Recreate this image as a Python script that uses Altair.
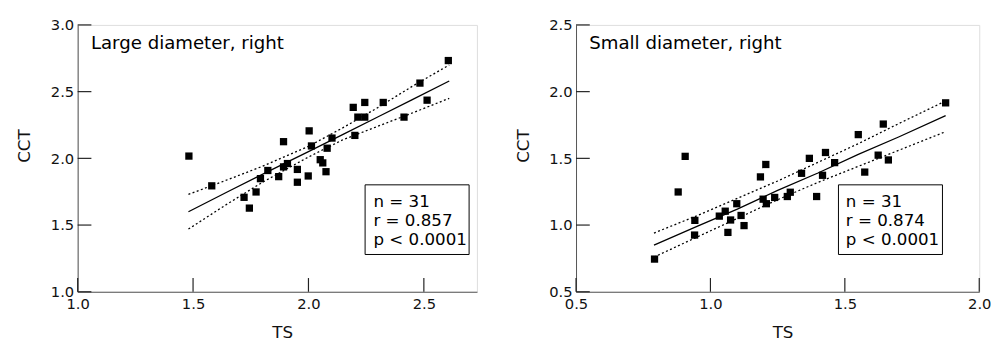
import altair as alt
import pandas as pd

FONT = "DejaVu Sans"

# ---- Left panel: Large diameter, right ----
left_ts = [1.482, 1.581, 1.721, 1.744, 1.773, 1.792, 1.824, 1.871, 1.892, 1.892,
           1.909, 1.952, 1.952, 1.999, 2.003, 2.013, 2.051, 2.062, 2.076, 2.081,
           2.102, 2.194, 2.201, 2.214, 2.244, 2.244, 2.324, 2.414, 2.483, 2.514, 2.606]
left_cct = [2.017, 1.794, 1.708, 1.627, 1.748, 1.848, 1.909, 1.863, 2.125, 1.936,
            1.961, 1.917, 1.821, 1.868, 2.206, 2.093, 1.990, 1.966, 1.900, 2.076,
            2.152, 2.382, 2.172, 2.309, 2.419, 2.309, 2.419, 2.309, 2.564, 2.436, 2.733]
left_fit_x = [1.48, 1.65, 1.80, 2.00, 2.15, 2.30, 2.45, 2.61]
left_fit_y = [1.60, 1.75, 1.88, 2.05, 2.18, 2.31, 2.44, 2.58]
left_upper = [1.73, 1.84, 1.94, 2.09, 2.23, 2.38, 2.54, 2.70]
left_lower = [1.47, 1.66, 1.82, 2.01, 2.14, 2.24, 2.34, 2.45]
left_xticks = [1.0, 1.5, 2.0, 2.5]
left_yticks = [1.0, 1.5, 2.0, 2.5, 3.0]
left_title = "Large diameter, right"
left_stats = "n = 31\nr = 0.857\np < 0.0001"

# ---- Right panel: Small diameter, right ----
right_ts = [0.792, 0.880, 0.906, 0.942, 0.941, 1.033, 1.055, 1.065, 1.075, 1.098,
            1.114, 1.125, 1.186, 1.196, 1.206, 1.208, 1.239, 1.286, 1.297, 1.339,
            1.368, 1.395, 1.417, 1.428, 1.462, 1.550, 1.574, 1.624, 1.643, 1.662, 1.875]
right_cct = [0.745, 1.248, 1.515, 1.035, 0.925, 1.067, 1.104, 0.945, 1.038, 1.160,
             1.072, 0.996, 1.361, 1.194, 1.454, 1.160, 1.207, 1.214, 1.246, 1.388,
             1.500, 1.214, 1.373, 1.544, 1.468, 1.678, 1.397, 1.524, 1.757, 1.488, 1.916]
right_fit_x = [0.79, 0.95, 1.10, 1.25, 1.40, 1.55, 1.70, 1.875]
right_fit_y = [0.85, 0.99, 1.12, 1.26, 1.39, 1.53, 1.66, 1.82]
right_upper = [0.94, 1.07, 1.20, 1.33, 1.47, 1.61, 1.76, 1.93]
right_lower = [0.76, 0.91, 1.05, 1.19, 1.32, 1.44, 1.56, 1.70]
right_xticks = [0.5, 1.0, 1.5, 2.0]
right_yticks = [0.5, 1.0, 1.5, 2.0, 2.5]
right_title = "Small diameter, right"
right_stats = "n = 31\nr = 0.874\np < 0.0001"

H = 272


def panel(ts, cct, fx, fy, up, lo, xdom, ydom, xticks, yticks, title, stats,
          width, box_x, text_x):
    xs = alt.Scale(domain=xdom, nice=False, zero=False)
    ys = alt.Scale(domain=ydom, nice=False, zero=False)
    xaxis = alt.Axis(values=xticks, format=".1f", title="TS", titlePadding=14,
                     titleX=width / 2 + 5)
    yaxis = alt.Axis(values=yticks, format=".1f", title="CCT", titlePadding=17, titleY=123)

    def X(f):
        return alt.X(f, scale=xs, axis=xaxis)

    def Y(f):
        return alt.Y(f, scale=ys, axis=yaxis)

    pts = pd.DataFrame({"x": ts, "y": cct})
    fit = pd.DataFrame({"x": fx, "y": fy, "up": up, "lo": lo})
    xt = pd.DataFrame({"x": xticks})
    yt = pd.DataFrame({"y": yticks})
    one = pd.DataFrame({"t": [title], "s": [stats]})

    tick_x = alt.Chart(xt).mark_rule(color="#222", strokeWidth=1.2).encode(
        x=X("x:Q"), y=alt.value(H), y2=alt.value(H - 14))
    tick_y = alt.Chart(yt).mark_rule(color="#222", strokeWidth=1.2).encode(
        y=Y("y:Q"), x=alt.value(0), x2=alt.value(14))
    points = alt.Chart(pts).mark_square(size=55, color="black", opacity=1).encode(
        x=X("x:Q"), y=Y("y:Q"))
    line = alt.Chart(fit).mark_line(color="black", strokeWidth=1.3).encode(
        x=X("x:Q"), y=Y("y:Q"))
    upper = alt.Chart(fit).mark_line(color="black", strokeWidth=1.3, strokeDash=[2, 2.5]).encode(
        x=X("x:Q"), y=Y("up:Q"))
    lower = alt.Chart(fit).mark_line(color="black", strokeWidth=1.3, strokeDash=[2, 2.5]).encode(
        x=X("x:Q"), y=Y("lo:Q"))
    box = alt.Chart(one).mark_rect(fill="white", stroke="black", strokeWidth=1).encode(
        x=alt.value(box_x), x2=alt.value(box_x + 106), y=alt.value(163), y2=alt.value(234))
    stats_t = alt.Chart(one).mark_text(align="left", baseline="alphabetic", lineBreak="\n",
                                        lineHeight=19.5, font=FONT, fontSize=17,
                                        color="black").encode(
        x=alt.value(text_x), y=alt.value(185.5), text="s:N")
    title_t = alt.Chart(one).mark_text(align="left", baseline="alphabetic", font=FONT,
                                        fontSize=18.5, color="black").encode(
        x=alt.value(13.5), y=alt.value(25), text="t:N")
    return alt.layer(line, upper, lower, points, tick_x, tick_y, box, stats_t, title_t).properties(
        width=width, height=H)


left = panel(left_ts, left_cct, left_fit_x, left_fit_y, left_upper, left_lower,
             [1.0, 2.73], [1.0, 3.0], left_xticks, left_yticks, left_title, left_stats,
             407, 293, 301.5)
right = panel(right_ts, right_cct, right_fit_x, right_fit_y, right_upper, right_lower,
              [0.5, 2.0], [0.5, 2.5], right_xticks, right_yticks, right_title, right_stats,
              411, 267.5, 275)

chart = alt.hconcat(left, right, spacing=36).properties(
    padding={"left": 7, "top": 6, "right": 0, "bottom": 0}
).configure_view(stroke=None).configure(background="white").configure_axis(
    ticks=False, tickSize=0, grid=False, labelFlush=False, labelOverlap=False,
    labelPadding=5, domainColor="#555", domainWidth=1,
    labelFont=FONT, titleFont=FONT, labelFontSize=15, titleFontSize=17,
    labelColor="#111", titleColor="#111", titleFontWeight="normal"
).configure_axisLeft(labelPadding=4)

chart.save("out.html", embed_options={"renderer": "svg", "actions": False})
